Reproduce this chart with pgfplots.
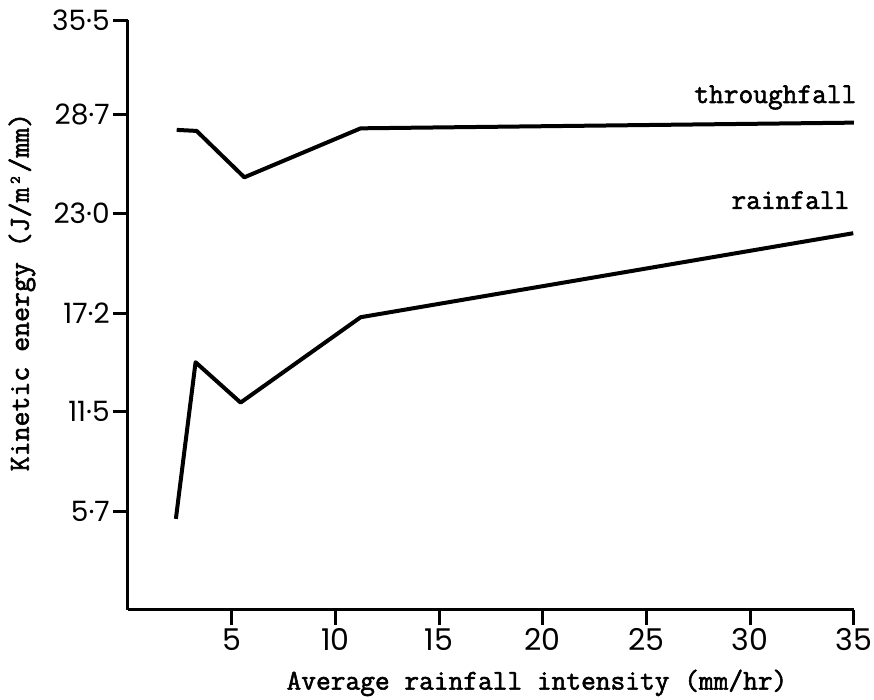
\documentclass[border=0pt]{standalone}
\usepackage{fontspec}
\usepackage{pgfplots}
\pgfplotsset{compat=1.18}
\newfontfamily\labelfont{Latin Modern Mono}[FakeBold=2]
\newfontfamily\tickfont{Poppins}

% Kinetic energy of rainfall and throughfall against rainfall intensity
\pgfplotstableread{
x     y
2.35  27.83
3.31  27.77
5.61  25.08
11.22 27.92
35.0  28.25
}\throughfall
\pgfplotstableread{
x     y
2.31  5.28
3.26  14.36
5.43  12.02
11.22 16.97
34.97 21.84
}\rainfall

\begin{document}
\begin{tikzpicture}
\begin{axis}[
  scale only axis,
  width=726pt, height=590pt,
  xmin=0, xmax=35, ymin=0, ymax=34.2,
  axis lines=left,
  axis line style={line width=3pt, -},
  clip=false,
  xtick={5,10,15,20,25,30,35},
  ytick={5.7,11.5,17.2,23.0,28.7,34.2},
  xticklabels={}, yticklabels={},
  tick align=outside,
  major tick length=15pt,
  every tick/.style={black, line width=3pt},
]
\addplot[line width=4pt, black, line join=round] table[x=x, y=y] {\throughfall};
\addplot[line width=4pt, black, line join=round] table[x=x, y=y] {\rainfall};

% tick strokes
\pgfplotsinvokeforeach{5,10,15,20,25,30,35}{
  \draw[line width=3pt, black] (axis cs:#1,0) -- (axis cs:#1,-0.85);
}
\pgfplotsinvokeforeach{5.7,11.5,17.2,23.0,28.7,34.2}{
  \draw[line width=3pt, black] (axis cs:0,#1) -- (axis cs:-0.72,#1);
}

% tick labels
\pgfplotsinvokeforeach{5,10,15,20,25,30,35}{
  \node[anchor=north, inner sep=0pt, font=\tickfont\fontsize{30}{32}\selectfont]
    at (axis cs:#1,-1.07) {#1};
}
\foreach \v/\t in {5.7/5·7, 11.5/11·5, 17.2/17·2, 23.0/23·0, 28.7/28·7, 34.2/35·5}{
  \edef\temp{\noexpand\node[anchor=east, inner sep=0pt, font=\noexpand\tickfont\noexpand\fontsize{28}{30}\noexpand\selectfont]
    at (axis cs:-0.87,\v) {\t};}\temp
}

% series names
\node[anchor=base east, font=\labelfont\fontsize{28.6}{30}\selectfont] at (axis cs:35.29,29.39) {throughfall};
\node[anchor=base east, font=\labelfont\fontsize{28.6}{30}\selectfont] at (axis cs:34.95,23.25) {rainfall};

% axis titles
\node[rotate=90, font=\labelfont\fontsize{29}{30}\selectfont] at (axis cs:-5.11,18.43) {Kinetic energy (J/m²/mm)};
\node[font=\labelfont\fontsize{28.6}{30}\selectfont] at (axis cs:19.72,-4.23) {Average rainfall intensity (mm/hr)};

\coordinate (bbA) at (axis cs:-6.17,-5.22);
\coordinate (bbB) at (axis cs:35.97,35.36);
\end{axis}
\pgfresetboundingbox
\useasboundingbox (bbA) rectangle (bbB);
\end{tikzpicture}
\end{document}
